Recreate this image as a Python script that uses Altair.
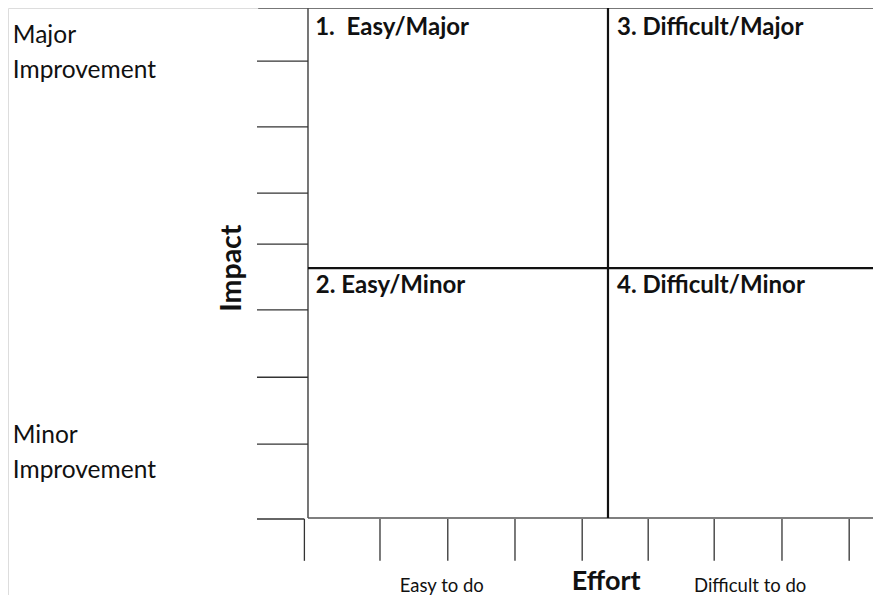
import altair as alt
import pandas as pd

# ---- content ----
quadrant_labels = ["1.\u00a0 Easy/Major", "3. Difficult/Major", "2. Easy/Minor", "4. Difficult/Minor"]
quadrant_effort = [1.2, 51.5, 1.3, 51.5]      # left edge of each label (effort units)
quadrant_impact = [94.7, 94.7, 44.1, 44.1]    # baseline (impact units)

impact_labels = ["Major", "Improvement", "Minor", "Improvement"]
impact_label_y = [93.1, 86.3, 14.7, 7.8]

effort_labels = ["Easy to do", "Difficult to do"]
effort_label_x = [22.3, 73.7]

axis_titles = ["Impact", "Effort"]

x_ticks = [-0.6, 12, 23.3, 34.5, 45.7, 56.7, 67.7, 79, 90.2]
y_ticks = [100, 89.6, 76.7, 63.7, 53.7, 40.8, 27.6, 14.5, -0.2]
x_split = 50
y_split = 49

X_DOMAIN = [-50, 94.17]
Y_DOMAIN = [-15.1, 100]
FONT = "Lato"


def xs():
    return alt.Scale(domain=X_DOMAIN, nice=False, zero=False)


def ys():
    return alt.Scale(domain=Y_DOMAIN, nice=False, zero=False)


def seg_layer(df, color, width):
    return alt.Chart(df).mark_rule(color=color, strokeWidth=width).encode(
        x=alt.X("x:Q", scale=xs(), axis=None),
        x2="x2:Q",
        y=alt.Y("y:Q", scale=ys(), axis=None),
        y2="y2:Q",
    )


# box frame
frame = pd.DataFrame([
    {"x": -8.3, "x2": X_DOMAIN[1], "y": 100, "y2": 100},
    {"x": 0, "x2": 0, "y": 0, "y2": 100},
    {"x": 0, "x2": X_DOMAIN[1], "y": 0, "y2": 0},
])
# dividers
dividers = pd.DataFrame([
    {"x": x_split, "x2": x_split, "y": 0, "y2": 100},
    {"x": 0, "x2": X_DOMAIN[1], "y": y_split, "y2": y_split},
])
# ticks
tick_rows = []
for v in y_ticks[1:]:
    x_end = x_ticks[0] if v == y_ticks[-1] else 0
    tick_rows.append({"x": -8.5, "x2": x_end, "y": v, "y2": v})
for v in x_ticks:
    tick_rows.append({"x": v, "x2": v, "y": y_ticks[-1], "y2": -8.4})
ticks = pd.DataFrame(tick_rows)

layers = [
    seg_layer(frame, "#555555", 1.6),
    seg_layer(ticks, "#333333", 1.3),
    seg_layer(dividers, "#111111", 2.2),
]


def text_layer(df, size, weight="normal", align="left", angle=0):
    kw = dict(font=FONT, fontSize=size, fontWeight=weight, align=align,
              baseline="alphabetic", color="#111111")
    if angle:
        kw["angle"] = angle
    return alt.Chart(df).mark_text(**kw).encode(
        x=alt.X("x:Q", scale=xs(), axis=None),
        y=alt.Y("y:Q", scale=ys(), axis=None),
        text="text:N",
    )


q_df = pd.DataFrame({"x": quadrant_effort, "y": quadrant_impact, "text": quadrant_labels})
i_df = pd.DataFrame({"x": [-49.2] * 4, "y": impact_label_y, "text": impact_labels})
e_df = pd.DataFrame({"x": effort_label_x, "y": [-14.5, -14.5], "text": effort_labels})
imp_df = pd.DataFrame({"x": [-11.2], "y": [y_split], "text": [axis_titles[0]]})
eff_df = pd.DataFrame({"x": [49.7], "y": [-14.2], "text": [axis_titles[1]]})

layers += [
    text_layer(q_df, 24, "bold"),
    text_layer(i_df, 24.5),
    text_layer(e_df, 18.5, align="center"),
    text_layer(imp_df, 28.5, "bold", align="center", angle=270),
    text_layer(eff_df, 27, "bold", align="center"),
]

chart = alt.layer(*layers).properties(
    width=865, height=587,
    autosize=alt.AutoSizeParams(type="none"),
    padding=0,
).configure_view(stroke=None).configure(background="white")

chart.save("out.html", embed_options={"renderer": "svg", "actions": False})
